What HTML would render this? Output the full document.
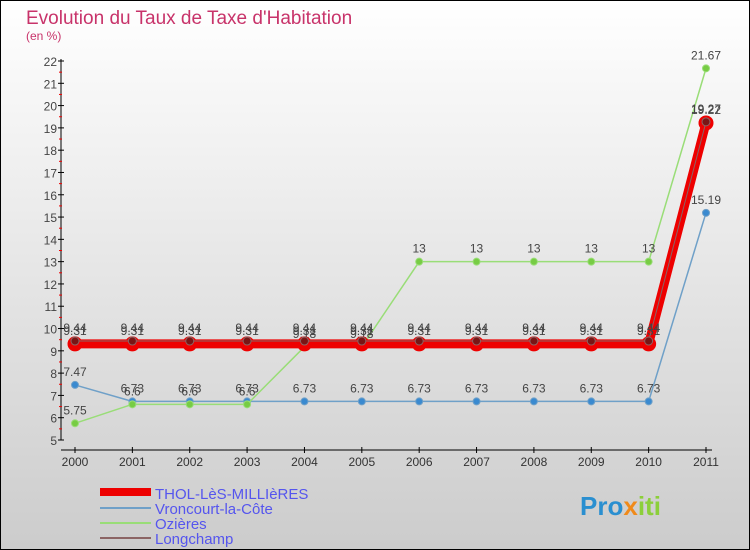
<!DOCTYPE html>
<html><head><meta charset="utf-8"><style>
body{margin:0}
#c{width:750px;height:550px;position:relative;background:linear-gradient(#ffffff,#cccccc);box-sizing:border-box;border:1px solid #000;font-family:"Liberation Sans",sans-serif;overflow:hidden}
</style></head><body>
<div id="c">
<svg id="s" width="750" height="550" style="position:absolute;left:-1px;top:-1px">
<text x="26" y="24" font-size="19" fill="#c8336a">Evolution du Taux de Taxe d'Habitation</text>
<text x="26" y="40" font-size="12" fill="#c8336a">(en %)</text>
<g id="axes"></g><g id="series"></g>
<g>
<rect x="100" y="488" width="51" height="8" fill="#e00"/>
<line x1="100" y1="508" x2="151" y2="508" stroke="#6fa0c8" stroke-width="2"/>
<line x1="100" y1="523" x2="151" y2="523" stroke="#99dd77" stroke-width="2"/>
<line x1="100" y1="538" x2="151" y2="538" stroke="#8b6464" stroke-width="2"/>
<g font-size="15" fill="#5555ee">
<text x="155" y="499">THOL-LèS-MILLIèRES</text>
<text x="155" y="514">Vroncourt-la-Côte</text>
<text x="155" y="529">Ozières</text>
<text x="155" y="544">Longchamp</text>
</g></g>
<text x="580" y="515" font-size="26" font-weight="bold" fill="#2a8fd0">Pro<tspan fill="#f08a1a">x</tspan><tspan fill="#8ccf3a">iti</tspan></text>
</svg></div>
<script>
const years=[2000,2001,2002,2003,2004,2005,2006,2007,2008,2009,2010,2011];
const yTicks=[5,6,7,8,9,10,11,12,13,14,15,16,17,18,19,20,21,22];
const thol=[9.31,9.31,9.31,9.31,9.31,9.31,9.31,9.31,9.31,9.31,9.31,19.22];
const vroncourt=[7.47,6.73,6.73,6.73,6.73,6.73,6.73,6.73,6.73,6.73,6.73,15.19];
const ozieres=[5.75,6.6,6.6,6.6,9.18,9.18,13,13,13,13,13,21.67];
const longchamp=[9.44,9.44,9.44,9.44,9.44,9.44,9.44,9.44,9.44,9.44,9.44,19.27];
const NS="http://www.w3.org/2000/svg";
const X=i=>75+i*(706-75)/11;
const Y=v=>440-(v-5)*(440-61)/17;
function mk(t,a,p){const e=document.createElementNS(NS,t);for(const k in a)e.setAttribute(k,a[k]);p.appendChild(e);return e;}
const ax=document.getElementById('axes');
const yl=mk('line',{x1:61,y1:Y(22)-2,x2:61,y2:440,stroke:'#000'},ax);


const xl=mk('line',{x1:61,y1:450,x2:712,y2:450,stroke:'#000'},ax);


yTicks.forEach(v=>{
 mk('line',{x1:58,y1:Y(v),x2:64,y2:Y(v),stroke:'#000'},ax);
 if(v<22)mk('line',{x1:59,y1:Y(v+0.5),x2:62,y2:Y(v+0.5),stroke:'#e00'},ax);
 const t=mk('text',{x:57,y:Y(v)+5,'font-size':12,fill:'#444','text-anchor':'end'},ax);t.textContent=v;
 
 
});
years.forEach((y,i)=>{
 mk('line',{x1:X(i),y1:447,x2:X(i),y2:453,stroke:'#000'},ax);
 const t=mk('text',{x:X(i),y:466,'font-size':12,fill:'#333','text-anchor':'middle'},ax);t.textContent=y;
 
 
});
const sg=document.getElementById('series');
function series(d,name,col,w,r,dot){
 const g=mk('g',{},sg);
 
 
 mk('polyline',{points:d.map((v,i)=>X(i)+','+Y(v)).join(' '),fill:'none',stroke:col,'stroke-width':w},g);
 d.forEach((v,i)=>{
  const c=mk('circle',{cx:X(i),cy:Y(v),r:r,fill:dot,stroke:col,'stroke-width':1},g);
  
  
  const t=mk('text',{x:X(i),y:Y(v)-9,'font-size':12,fill:'#444','text-anchor':'middle'},g);t.textContent=v;
  
  
 });
}
series(vroncourt,'vroncourt','#6fa0c8',1.5,3.5,'#3a8ad0');
series(ozieres,'ozieres','#99dd77',1.5,3.5,'#77cc44');
series(thol,'thol','#e00',9,7,'#e00');
series(longchamp,'longchamp','#8b6464',1,4,'#7a1515');
</script>
</body></html>
